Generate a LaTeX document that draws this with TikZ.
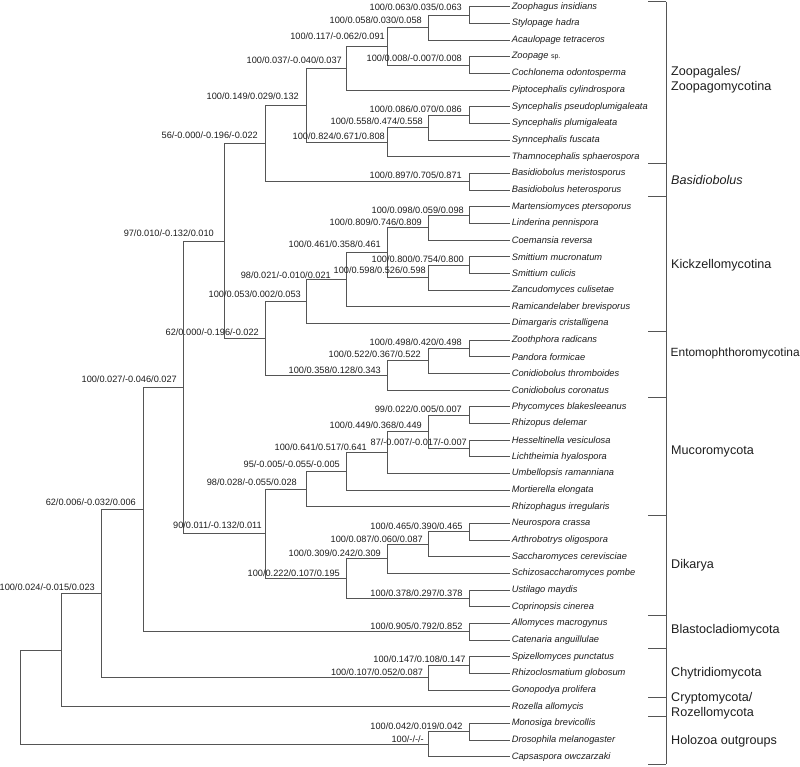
\documentclass[tikz,border=0pt]{standalone}
\usepackage{fontspec}
\setmainfont{Liberation Sans}
\definecolor{linecol}{RGB}{85,85,85}
\definecolor{txtcol}{RGB}{30,30,30}
\begin{document}
\begin{tikzpicture}[x=1pt,y=-1pt,
  br/.style={draw=linecol, line width=0.85pt},
  leaf/.style={anchor=west, inner sep=1.6pt, font=\fontsize{9.3}{10}\selectfont\itshape, text=txtcol},
  bslab/.style={anchor=east, inner sep=0pt, font=\fontsize{9.2}{10}\selectfont, text=txtcol},
  grp/.style={anchor=west, inner sep=0pt, font=\fontsize{12.6}{15}\selectfont, text=txtcol, align=left}]
\useasboundingbox (0,0) rectangle (800,766);
% leaves
\node[leaf] (l1) at (510,6.7) {Zoophagus insidians};
\node[leaf] (l2) at (510,23.37) {Stylopage hadra};
\node[leaf] (l3) at (510,40.03) {Acaulopage tetraceros};
\node[leaf] (l4) at (510,56.7) {Zoopage {\upshape\fontsize{7}{8}\selectfont sp.}};
\node[leaf] (l5) at (510,73.37) {Cochlonema odontosperma};
\node[leaf] (l6) at (510,90.03) {Piptocephalis cylindrospora};
\node[leaf] (l7) at (510,106.7) {Syncephalis pseudoplumigaleata};
\node[leaf] (l8) at (510,123.37) {Syncephalis plumigaleata};
\node[leaf] (l9) at (510,140.03) {Synncephalis fuscata};
\node[leaf] (l10) at (510,156.7) {Thamnocephalis sphaerospora};
\node[leaf] (l11) at (510,173.37) {Basidiobolus meristosporus};
\node[leaf] (l12) at (510,190.03) {Basidiobolus heterosporus};
\node[leaf] (l13) at (510,206.7) {Martensiomyces ptersoporus};
\node[leaf] (l14) at (510,223.37) {Linderina pennispora};
\node[leaf] (l15) at (510,240.03) {Coemansia reversa};
\node[leaf] (l16) at (510,256.7) {Smittium mucronatum};
\node[leaf] (l17) at (510,273.37) {Smittium culicis};
\node[leaf] (l18) at (510,290.03) {Zancudomyces culisetae};
\node[leaf] (l19) at (510,306.7) {Ramicandelaber brevisporus};
\node[leaf] (l20) at (510,323.37) {Dimargaris cristalligena};
\node[leaf] (l21) at (510,340.03) {Zoothphora radicans};
\node[leaf] (l22) at (510,356.7) {Pandora formicae};
\node[leaf] (l23) at (510,373.37) {Conidiobolus thromboides};
\node[leaf] (l24) at (510,390.03) {Conidiobolus coronatus};
\node[leaf] (l25) at (510,406.7) {Phycomyces blakesleeanus};
\node[leaf] (l26) at (510,423.37) {Rhizopus delemar};
\node[leaf] (l27) at (510,440.03) {Hesseltinella vesiculosa};
\node[leaf] (l28) at (510,456.7) {Lichtheimia hyalospora};
\node[leaf] (l29) at (510,473.37) {Umbellopsis ramanniana};
\node[leaf] (l30) at (510,490.03) {Mortierella elongata};
\node[leaf] (l31) at (510,506.7) {Rhizophagus irregularis};
\node[leaf] (l32) at (510,523.37) {Neurospora crassa};
\node[leaf] (l33) at (510,540.03) {Arthrobotrys oligospora};
\node[leaf] (l34) at (510,556.7) {Saccharomyces cerevisciae};
\node[leaf] (l35) at (510,573.37) {Schizosaccharomyces pombe};
\node[leaf] (l36) at (510,590.03) {Ustilago maydis};
\node[leaf] (l37) at (510,606.7) {Coprinopsis cinerea};
\node[leaf] (l38) at (510,623.37) {Allomyces macrogynus};
\node[leaf] (l39) at (510,640.03) {Catenaria anguillulae};
\node[leaf] (l40) at (510,656.7) {Spizellomyces punctatus};
\node[leaf] (l41) at (510,673.37) {Rhizoclosmatium globosum};
\node[leaf] (l42) at (510,690.03) {Gonopodya prolifera};
\node[leaf] (l43) at (510,706.7) {Rozella allomycis};
\node[leaf] (l44) at (510,723.37) {Monosiga brevicollis};
\node[leaf] (l45) at (510,740.03) {Drosophila melanogaster};
\node[leaf] (l46) at (510,756.7) {Capsaspora owczarzaki};
% internal nodes
\coordinate (zA) at (469.3,15.03);
\coordinate (zB) at (428.3,27.53);
\coordinate (zC) at (469.3,65.03);
\coordinate (zD) at (387.3,46.28);
\coordinate (zE) at (346.7,68.16);
\coordinate (sA) at (469.3,115.03);
\coordinate (sB) at (428.3,127.53);
\coordinate (sC) at (387.3,142.12);
\coordinate (zF) at (306,105.14);
\coordinate (bA) at (469.3,181.7);
\coordinate (zG) at (265,143.42);
\coordinate (kA) at (469.3,215.03);
\coordinate (kB) at (428.3,227.53);
\coordinate (kC) at (469.3,265.03);
\coordinate (kD) at (428.3,277.53);
\coordinate (kE) at (387.3,252.53);
\coordinate (kF) at (346.7,279.62);
\coordinate (kG) at (306,301.49);
\coordinate (eA) at (469.3,348.37);
\coordinate (eB) at (428.3,360.87);
\coordinate (eC) at (387.3,375.45);
\coordinate (kH) at (265,338.47);
\coordinate (xA) at (224,240.95);
\coordinate (mA) at (469.3,415.03);
\coordinate (mB) at (469.3,448.37);
\coordinate (mC) at (428.3,431.7);
\coordinate (mD) at (387.3,452.53);
\coordinate (mE) at (346.7,471.28);
\coordinate (mF) at (306,488.99);
\coordinate (dA) at (469.3,531.7);
\coordinate (dB) at (428.3,544.2);
\coordinate (dC) at (387.3,558.78);
\coordinate (dD) at (469.3,598.37);
\coordinate (dE) at (346.7,578.58);
\coordinate (xB) at (265,533.78);
\coordinate (xC) at (183.3,387.37);
\coordinate (blA) at (469.3,631.7);
\coordinate (xD) at (143.3,509.53);
\coordinate (cA) at (469.3,665.03);
\coordinate (cB) at (428.3,677.53);
\coordinate (xE) at (101.7,593.53);
\coordinate (xF) at (61,650.12);
\coordinate (hA) at (469.3,731.7);
\coordinate (hB) at (428.3,744.2);
\coordinate (root) at (20.7,697.16);
% branches
\foreach \p/\c in {zA/l1.west, zA/l2.west, zB/zA, zB/l3.west, zC/l4.west, zC/l5.west,
  zD/zB, zD/zC, zE/zD, zE/l6.west, sA/l7.west, sA/l8.west, sB/sA, sB/l9.west,
  sC/sB, sC/l10.west, zF/zE, zF/sC, bA/l11.west, bA/l12.west, zG/zF, zG/bA,
  kA/l13.west, kA/l14.west, kB/kA, kB/l15.west, kC/l16.west, kC/l17.west,
  kD/kC, kD/l18.west, kE/kB, kE/kD, kF/kE, kF/l19.west, kG/kF, kG/l20.west,
  eA/l21.west, eA/l22.west, eB/eA, eB/l23.west, eC/eB, eC/l24.west,
  kH/kG, kH/eC, xA/zG, xA/kH,
  mA/l25.west, mA/l26.west, mB/l27.west, mB/l28.west, mC/mA, mC/mB,
  mD/mC, mD/l29.west, mE/mD, mE/l30.west, mF/mE, mF/l31.west,
  dA/l32.west, dA/l33.west, dB/dA, dB/l34.west, dC/dB, dC/l35.west,
  dD/l36.west, dD/l37.west, dE/dC, dE/dD, xB/mF, xB/dE, xC/xA, xC/xB,
  blA/l38.west, blA/l39.west, xD/xC, xD/blA, cA/l40.west, cA/l41.west,
  cB/cA, cB/l42.west, xE/xD, xE/cB, xF/xE, xF/l43.west,
  hA/l44.west, hA/l45.west, hB/hA, hB/l46.west, root/xF, root/hB}
  \draw[br] (\p) |- (\c);
% support labels
\node[bslab] (s-zA) at (462,7.3) {100/0.063/0.035/0.063};
\node[bslab] (s-zB) at (422,20.7) {100/0.058/0.030/0.058};
\node[bslab] (s-zD) at (385,36.7) {100/0.117/-0.062/0.091};
\node[bslab] (s-zE) at (342,60) {100/0.037/-0.040/0.037};
\node[bslab] (s-zC) at (462,58.3) {100/0.008/-0.007/0.008};
\node[bslab] (s-zF) at (299,96.7) {100/0.149/0.029/0.132};
\node[bslab] (s-sA) at (462,109.3) {100/0.086/0.070/0.086};
\node[bslab] (s-sB) at (423,121.7) {100/0.558/0.474/0.558};
\node[bslab] (s-sC) at (385,136) {100/0.824/0.671/0.808};
\node[bslab] (s-zG) at (258,135) {56/-0.000/-0.196/-0.022};
\node[bslab] (s-bA) at (462,175) {100/0.897/0.705/0.871};
\node[bslab] (s-kA) at (464,210) {100/0.098/0.059/0.098};
\node[bslab] (s-kB) at (422,222.3) {100/0.809/0.746/0.809};
\node[bslab] (s-kE) at (381,244.3) {100/0.461/0.358/0.461};
\node[bslab] (s-kC) at (464,259.3) {100/0.800/0.754/0.800};
\node[bslab] (s-kD) at (426,270) {100/0.598/0.526/0.598};
\node[bslab] (s-kF) at (331,275.7) {98/0.021/-0.010/0.021};
\node[bslab] (s-kG) at (301,294.3) {100/0.053/0.002/0.053};
\node[bslab] (s-xA) at (214,233.3) {97/0.010/-0.132/0.010};
\node[bslab] (s-kH) at (259,332.7) {62/0.000/-0.196/-0.022};
\node[bslab] (s-eA) at (462,342.3) {100/0.498/0.420/0.498};
\node[bslab] (s-eB) at (421,354.3) {100/0.522/0.367/0.522};
\node[bslab] (s-eC) at (381,370) {100/0.358/0.128/0.343};
\node[bslab] (s-xC) at (177,379.3) {100/0.027/-0.046/0.027};
\node[bslab] (s-mA) at (462,409.3) {99/0.022/0.005/0.007};
\node[bslab] (s-mC) at (422,425.7) {100/0.449/0.368/0.449};
\node[bslab] (s-mB) at (467,442.3) {87/-0.007/-0.017/-0.007};
\node[bslab] (s-mD) at (367,447.7) {100/0.641/0.517/0.641};
\node[bslab] (s-mE) at (340,464.3) {95/-0.005/-0.055/-0.005};
\node[bslab] (s-mF) at (297,482.7) {98/0.028/-0.055/0.028};
\node[bslab] (s-xD) at (136,502.7) {62/0.006/-0.032/0.006};
\node[bslab] (s-xB) at (262,525) {90/0.011/-0.132/0.011};
\node[bslab] (s-dA) at (462.7,526.7) {100/0.465/0.390/0.465};
\node[bslab] (s-dB) at (423,539.3) {100/0.087/0.060/0.087};
\node[bslab] (s-dC) at (381,553.3) {100/0.309/0.242/0.309};
\node[bslab] (s-dE) at (340,573.3) {100/0.222/0.107/0.195};
\node[bslab] (s-xE) at (95,587.3) {100/0.024/-0.015/0.023};
\node[bslab] (s-dD) at (462.7,593.3) {100/0.378/0.297/0.378};
\node[bslab] (s-blA) at (462.7,626) {100/0.905/0.792/0.852};
\node[bslab] (s-cA) at (465.7,659.3) {100/0.147/0.108/0.147};
\node[bslab] (s-cB) at (423.3,672.3) {100/0.107/0.052/0.087};
\node[bslab] (s-hA) at (462.7,726) {100/0.042/0.019/0.042};
\node[bslab] (s-hB) at (424,739) {100/-/-/-};
% group bracket
\coordinate (bt) at (666,1.5);
\coordinate (bb) at (666,764);
\draw[br] (bt) -- (bb);
\foreach \t in {1.5,163,196.5,331,397,515.5,615.5,648,697.5,716,764}
  \draw[br] (648,\t) -- (666,\t);
% group labels
\node[grp] (g1) at (671,79.5) {Zoopagales/\\Zoopagomycotina};
\node[grp] (g2) at (671,180) {\itshape Basidiobolus};
\node[grp] (g3) at (671,265) {Kickzellomycotina};
\node[grp, font=\fontsize{11.9}{14}\selectfont] (g4) at (670.5,353) {Entomophthoromycotina};
\node[grp] (g5) at (671,451) {Mucoromycota};
\node[grp] (g6) at (671,565) {Dikarya};
\node[grp] (g7) at (671,630.5) {Blastocladiomycota};
\node[grp] (g8) at (671,673) {Chytridiomycota};
\node[grp] (g9) at (671,706) {Cryptomycota/\\Rozellomycota};
\node[grp] (g10) at (671,741) {Holozoa outgroups};
\end{tikzpicture}
\end{document}
